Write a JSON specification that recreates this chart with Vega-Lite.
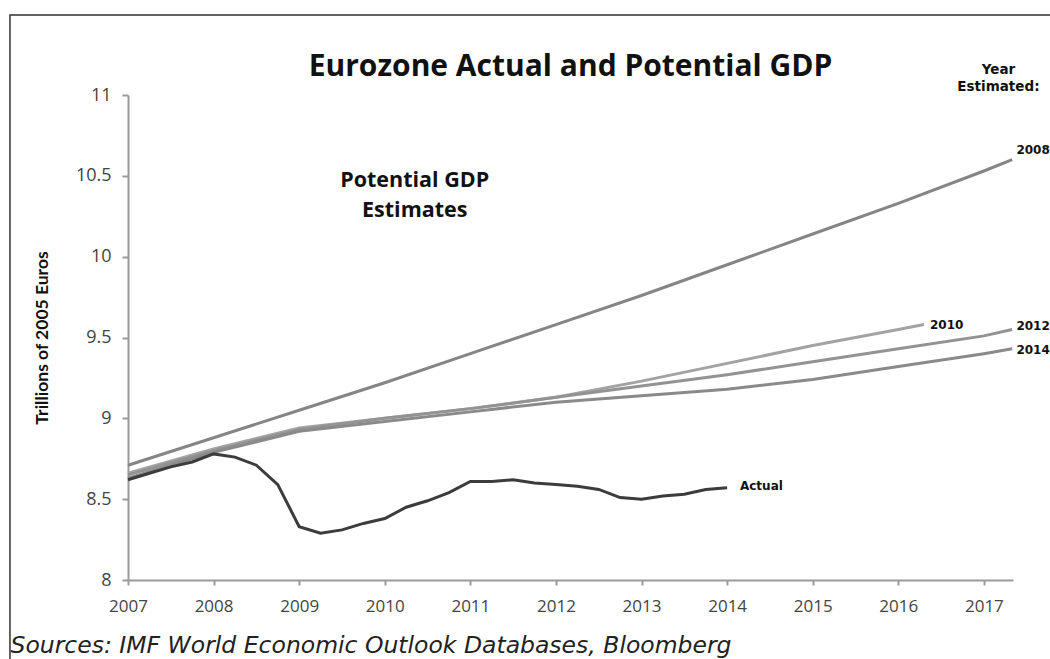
{
  "$schema": "https://vega.github.io/schema/vega-lite/v6.json",
  "width": 885,
  "height": 485,
  "autosize": {"type": "none"},
  "padding": {"left": 128, "top": 95, "right": 37, "bottom": 79},
  "background": "white",
  "title": {"text": "Eurozone Actual and Potential GDP", "font": "Open Sans", "fontSize": 30, "fontWeight": "bold", "color": "#111111", "anchor": "middle", "offset": 16, "dy": 84},
  "config": {"view": {"stroke": null}, "font": "Open Sans"},
  "datasets": {
    "lines": [
      {"series": "2008", "year": 2007, "value": 8.71},
      {"series": "2008", "year": 2008, "value": 8.88},
      {"series": "2008", "year": 2009, "value": 9.05},
      {"series": "2008", "year": 2010, "value": 9.22},
      {"series": "2008", "year": 2011, "value": 9.40},
      {"series": "2008", "year": 2012, "value": 9.58},
      {"series": "2008", "year": 2013, "value": 9.76},
      {"series": "2008", "year": 2014, "value": 9.95},
      {"series": "2008", "year": 2015, "value": 10.14},
      {"series": "2008", "year": 2016, "value": 10.33},
      {"series": "2008", "year": 2017, "value": 10.53},
      {"series": "2008", "year": 2017.33, "value": 10.60},
      {"series": "2010", "year": 2007, "value": 8.66},
      {"series": "2010", "year": 2008, "value": 8.81},
      {"series": "2010", "year": 2009, "value": 8.94},
      {"series": "2010", "year": 2010, "value": 9.00},
      {"series": "2010", "year": 2011, "value": 9.06},
      {"series": "2010", "year": 2012, "value": 9.13},
      {"series": "2010", "year": 2013, "value": 9.23},
      {"series": "2010", "year": 2014, "value": 9.34},
      {"series": "2010", "year": 2015, "value": 9.45},
      {"series": "2010", "year": 2016, "value": 9.55},
      {"series": "2010", "year": 2016.3, "value": 9.58},
      {"series": "2012", "year": 2007, "value": 8.65},
      {"series": "2012", "year": 2008, "value": 8.80},
      {"series": "2012", "year": 2009, "value": 8.93},
      {"series": "2012", "year": 2010, "value": 9.00},
      {"series": "2012", "year": 2011, "value": 9.06},
      {"series": "2012", "year": 2012, "value": 9.13},
      {"series": "2012", "year": 2013, "value": 9.20},
      {"series": "2012", "year": 2014, "value": 9.27},
      {"series": "2012", "year": 2015, "value": 9.35},
      {"series": "2012", "year": 2016, "value": 9.43},
      {"series": "2012", "year": 2017, "value": 9.51},
      {"series": "2012", "year": 2017.33, "value": 9.55},
      {"series": "2014", "year": 2007, "value": 8.63},
      {"series": "2014", "year": 2008, "value": 8.79},
      {"series": "2014", "year": 2009, "value": 8.92},
      {"series": "2014", "year": 2010, "value": 8.98},
      {"series": "2014", "year": 2011, "value": 9.04},
      {"series": "2014", "year": 2012, "value": 9.10},
      {"series": "2014", "year": 2013, "value": 9.14},
      {"series": "2014", "year": 2014, "value": 9.18},
      {"series": "2014", "year": 2015, "value": 9.24},
      {"series": "2014", "year": 2016, "value": 9.32},
      {"series": "2014", "year": 2017, "value": 9.40},
      {"series": "2014", "year": 2017.33, "value": 9.43},
      {"series": "Actual", "year": 2007.0, "value": 8.62},
      {"series": "Actual", "year": 2007.25, "value": 8.66},
      {"series": "Actual", "year": 2007.5, "value": 8.70},
      {"series": "Actual", "year": 2007.75, "value": 8.73},
      {"series": "Actual", "year": 2008.0, "value": 8.78},
      {"series": "Actual", "year": 2008.25, "value": 8.76},
      {"series": "Actual", "year": 2008.5, "value": 8.71},
      {"series": "Actual", "year": 2008.75, "value": 8.59},
      {"series": "Actual", "year": 2009.0, "value": 8.33},
      {"series": "Actual", "year": 2009.25, "value": 8.29},
      {"series": "Actual", "year": 2009.5, "value": 8.31},
      {"series": "Actual", "year": 2009.75, "value": 8.35},
      {"series": "Actual", "year": 2010.0, "value": 8.38},
      {"series": "Actual", "year": 2010.25, "value": 8.45},
      {"series": "Actual", "year": 2010.5, "value": 8.49},
      {"series": "Actual", "year": 2010.75, "value": 8.54},
      {"series": "Actual", "year": 2011.0, "value": 8.61},
      {"series": "Actual", "year": 2011.25, "value": 8.61},
      {"series": "Actual", "year": 2011.5, "value": 8.62},
      {"series": "Actual", "year": 2011.75, "value": 8.60},
      {"series": "Actual", "year": 2012.0, "value": 8.59},
      {"series": "Actual", "year": 2012.25, "value": 8.58},
      {"series": "Actual", "year": 2012.5, "value": 8.56},
      {"series": "Actual", "year": 2012.75, "value": 8.51},
      {"series": "Actual", "year": 2013.0, "value": 8.50},
      {"series": "Actual", "year": 2013.25, "value": 8.52},
      {"series": "Actual", "year": 2013.5, "value": 8.53},
      {"series": "Actual", "year": 2013.75, "value": 8.56},
      {"series": "Actual", "year": 2014.0, "value": 8.57}
    ],
    "endLabels": [
      {"label": "2008", "year": 2017.38, "value": 10.66},
      {"label": "2010", "year": 2016.37, "value": 9.58},
      {"label": "2012", "year": 2017.38, "value": 9.57},
      {"label": "2014", "year": 2017.38, "value": 9.42},
      {"label": "Actual", "year": 2014.15, "value": 8.58}
    ],
    "header": [
      {"label": "Year", "year": 2017.17, "value": 11.155},
      {"label": "Estimated:", "year": 2017.17, "value": 11.05}
    ],
    "note": [
      {"label": "Potential GDP", "year": 2010.35, "value": 10.465},
      {"label": "Estimates", "year": 2010.35, "value": 10.285}
    ],
    "frame": [
      {"x1": 2005.621, "x2": 2018.6, "y1": 11.495, "y2": 7.4}
    ]
  },
  "layer": [
    {
      "data": {"name": "frame"},
      "mark": {"type": "rect", "fill": null, "stroke": "#333333", "strokeWidth": 1.5, "clip": false},
      "encoding": {
        "x": {"field": "x1", "type": "quantitative"},
        "x2": {"field": "x2"},
        "y": {"field": "y1", "type": "quantitative"},
        "y2": {"field": "y2"}
      }
    },
    {
      "data": {"name": "lines"},
      "mark": {"type": "line", "strokeWidth": 3, "clip": false},
      "encoding": {
        "x": {
          "field": "year", "type": "quantitative",
          "scale": {"domain": [2007, 2017.34], "nice": false, "zero": false},
          "axis": {
            "values": [2007, 2008, 2009, 2010, 2011, 2012, 2013, 2014, 2015, 2016, 2017],
            "format": "d", "grid": false,
            "domainColor": "#9a9a9a", "domainWidth": 2,
            "tickColor": "#9a9a9a", "tickWidth": 2, "tickSize": 5,
            "labelFont": "Open Sans", "labelFontSize": 17, "labelColor": "#444444", "labelPadding": 13, "labelFlush": false,
            "title": "Sources: IMF World Economic Outlook Databases, Bloomberg",
            "titleFont": "DejaVu Sans", "titleFontStyle": "italic", "titleFontWeight": "normal",
            "titleFontSize": 23.5, "titleColor": "#222222",
            "titleAnchor": "start", "titleAlign": "left", "titleX": -118, "titleY": 72, "titleBaseline": "alphabetic"
          }
        },
        "y": {
          "field": "value", "type": "quantitative",
          "scale": {"domain": [8, 11], "nice": false, "zero": false},
          "axis": {
            "values": [8, 8.5, 9, 9.5, 10, 10.5, 11],
            "format": "~g", "grid": false,
            "domainColor": "#9a9a9a", "domainWidth": 2,
            "tickColor": "#9a9a9a", "tickWidth": 2, "tickSize": 6,
            "labelFont": "Open Sans", "labelFontSize": 18, "labelColor": "#444444", "labelPadding": 11,
            "title": "Trillions of 2005 Euros",
            "titleFont": "Lato", "titleFontSize": 17.5, "titleFontWeight": "bold", "titleColor": "#111111", "titlePadding": 24
          }
        },
        "color": {
          "field": "series", "type": "nominal",
          "scale": {"domain": ["2008", "2010", "2012", "2014", "Actual"], "range": ["#858585", "#a3a3a3", "#939393", "#8a8a8a", "#3c3c3c"]},
          "legend": null
        }
      }
    },
    {
      "data": {"name": "endLabels"},
      "mark": {"type": "text", "font": "DejaVu Sans", "fontWeight": "bold", "fontSize": 12, "align": "left", "baseline": "middle", "color": "#111111"},
      "encoding": {
        "x": {"field": "year", "type": "quantitative"},
        "y": {"field": "value", "type": "quantitative"},
        "text": {"field": "label"}
      }
    },
    {
      "data": {"name": "header"},
      "mark": {"type": "text", "font": "DejaVu Sans", "fontWeight": "bold", "fontSize": 13.5, "align": "center", "baseline": "middle", "color": "#111111"},
      "encoding": {
        "x": {"field": "year", "type": "quantitative"},
        "y": {"field": "value", "type": "quantitative"},
        "text": {"field": "label"}
      }
    },
    {
      "data": {"name": "note"},
      "mark": {"type": "text", "font": "Open Sans", "fontWeight": "bold", "fontSize": 21.5, "align": "center", "baseline": "middle", "color": "#111111"},
      "encoding": {
        "x": {"field": "year", "type": "quantitative"},
        "y": {"field": "value", "type": "quantitative"},
        "text": {"field": "label"}
      }
    }
  ]
}
